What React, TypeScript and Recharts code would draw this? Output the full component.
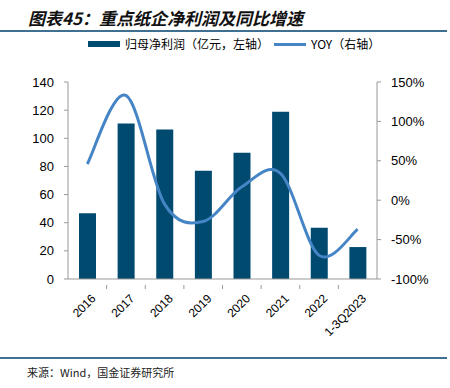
import React from 'react';
import { ComposedChart, Bar, Line, XAxis, YAxis } from 'recharts';

const years = ['2016', '2017', '2018', '2019', '2020', '2021', '2022', '1-3Q2023'];
const profit = [46.7, 110.5, 106.2, 77, 89.8, 118.9, 36.5, 22.7];
const yoy = [46, 133, -5, -27, 17, 34, -70, -37];
const leftTicks = [0, 20, 40, 60, 80, 100, 120, 140];
const rightTicks = [-100, -50, 0, 50, 100, 150];

const data = years.map((year, i) => ({ year, profit: profit[i], yoy: yoy[i] }));

const BAR = '#004a70';
const LINE = '#4585c6';
const FONT = '"Liberation Sans", Arial, sans-serif';
const CJK = '"Noto Sans CJK SC", sans-serif';

const PLOT_LEFT = 68;
const PLOT_RIGHT = 377;
const HALF_BAND = (PLOT_RIGHT - PLOT_LEFT) / years.length / 2;

// Excel-like smooth line (Catmull-Rom through the points)
const smooth = (context: any) => {
  let pts: number[][] = [];
  return {
    areaStart() {},
    areaEnd() {},
    lineStart() {
      pts = [];
    },
    point(x: number, y: number) {
      pts.push([+x, +y]);
    },
    lineEnd() {
      if (!pts.length) return;
      context.moveTo(pts[0][0], pts[0][1]);
      for (let i = 0; i < pts.length - 1; i++) {
        const p0 = pts[i - 1] ?? pts[i];
        const p1 = pts[i];
        const p2 = pts[i + 1];
        const p3 = pts[i + 2] ?? p2;
        context.bezierCurveTo(
          p1[0] + (p2[0] - p0[0]) / 6,
          p1[1] + (p2[1] - p0[1]) / 6,
          p2[0] - (p3[0] - p1[0]) / 6,
          p2[1] - (p3[1] - p1[1]) / 6,
          p2[0],
          p2[1]
        );
      }
    },
  };
};

const XTick = (props: any) => {
  const { x, y, payload, index } = props;
  return (
    <g>
      {index < years.length - 1 && (
        <line x1={x + HALF_BAND} x2={x + HALF_BAND} y1={y - 2} y2={y + 2} stroke="#999" />
      )}
      <text
        x={x + 3}
        y={y + 6}
        transform={`rotate(-45, ${x + 3}, ${y + 6})`}
        textAnchor="end"
        dominantBaseline="hanging"
        fontSize={12}
        fontFamily={FONT}
        fill="#000"
      >
        {payload.value}
      </text>
    </g>
  );
};

export default function App() {
  return (
    <div style={{ position: 'absolute', left: 0, top: 0, width: 450, height: 388, background: '#fff', overflow: 'hidden' }}>
      <div
        style={{
          position: 'absolute',
          left: 28,
          top: 5,
          fontFamily: CJK,
          fontWeight: 700,
          fontStyle: 'italic',
          fontSize: 17,
          color: '#111',
          whiteSpace: 'nowrap',
        }}
      >
        图表45：重点纸企净利润及同比增速
      </div>
      <div style={{ position: 'absolute', left: 0, top: 30, width: 447, height: 2, background: '#3f7091' }} />

      <div style={{ position: 'absolute', left: 88, top: 41, width: 32, height: 6, background: BAR }} />
      <div style={{ position: 'absolute', left: 125, top: 35, fontFamily: CJK, fontSize: 12, color: '#000', whiteSpace: 'nowrap' }}>
        归母净利润（亿元，左轴）
      </div>
      <div style={{ position: 'absolute', left: 274, top: 43, width: 32, height: 3, background: LINE }} />
      <div style={{ position: 'absolute', left: 311, top: 35, fontFamily: CJK, fontSize: 12, color: '#000', whiteSpace: 'nowrap' }}>
        YOY（右轴）
      </div>

      <div style={{ position: 'absolute', left: 0, top: 0 }}>
        <ComposedChart width={450} height={388} data={data} margin={{ top: 82, right: 8, bottom: 49, left: 8 }}>
          <XAxis
            dataKey="year"
            height={60}
            interval={0}
            tick={<XTick />}
            tickLine={false}
            axisLine={{ stroke: '#999' }}
          />
          <YAxis
            yAxisId="left"
            width={60}
            domain={[0, 140]}
            ticks={leftTicks}
            interval={0}
            tick={{ fontSize: 13, fontFamily: FONT, fill: '#000' }}
            tickLine={{ stroke: '#999' }}
            tickSize={4}
            tickMargin={10}
            axisLine={{ stroke: '#999' }}
          />
          <YAxis
            yAxisId="right"
            orientation="right"
            width={65}
            domain={[-100, 150]}
            ticks={rightTicks}
            interval={0}
            tickFormatter={(v: number) => `${v}%`}
            tick={{ fontSize: 13, fontFamily: FONT, fill: '#000' }}
            tickLine={{ stroke: '#999' }}
            tickSize={4}
            tickMargin={10}
            axisLine={{ stroke: '#999' }}
          />
          <Bar yAxisId="left" dataKey="profit" fill={BAR} barSize={17} isAnimationActive={false} />
          <Line
            yAxisId="right"
            dataKey="yoy"
            type={smooth as any}
            stroke={LINE}
            strokeWidth={3}
            dot={false}
            activeDot={false}
            isAnimationActive={false}
          />
        </ComposedChart>
      </div>

      <div style={{ position: 'absolute', left: 0, top: 357, width: 447, height: 2, background: '#3f7091' }} />
      <div style={{ position: 'absolute', left: 27, top: 364, fontFamily: CJK, fontSize: 11, color: '#222', whiteSpace: 'nowrap' }}>
        来源：Wind，国金证券研究所
      </div>
    </div>
  );
}
